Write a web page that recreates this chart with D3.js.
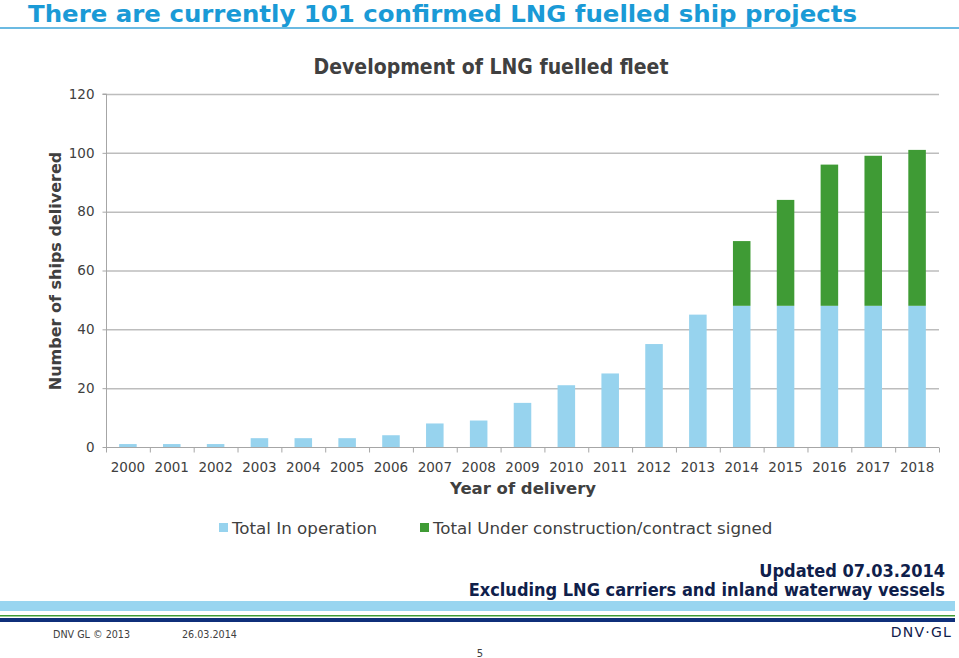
<!DOCTYPE html>
<html><head><meta charset="utf-8">
<script src="https://cdn.jsdelivr.net/npm/d3@7"></script>
<style>body{margin:0;background:#fff}svg{display:block}</style>
</head><body>
<script>
const years = ["2000","2001","2002","2003","2004","2005","2006","2007","2008","2009","2010","2011","2012","2013","2014","2015","2016","2017","2018"];
const inOperation = [1,1,1,3,3,3,4,8,9,15,21,25,35,45,48,48,48,48,48];
const underConstruction = [0,0,0,0,0,0,0,0,0,0,0,0,0,0,22,36,48,51,53];
const yTicks = [0,20,40,60,80,100,120];
const seriesNames = ["Total In operation","Total Under construction/contract signed"];
const colors = ["#97d3ee","#3f9b35"];

const W=959,H=658;
const svg=d3.select("body").append("svg").attr("width",W).attr("height",H);
const cond="'DejaVu Sans Condensed','DejaVu Sans',sans-serif";
const sans="'DejaVu Sans',Verdana,sans-serif";

// page title
svg.append("text").attr("x",28).attr("y",21.5).attr("font-family",cond).attr("font-weight","bold")
 .attr("font-size",23).attr("textLength",829).attr("lengthAdjust","spacingAndGlyphs")
 .attr("fill","#1a9ad6").text("There are currently 101 confirmed LNG fuelled ship projects");
svg.append("line").attr("x1",0).attr("x2",W).attr("y1",28).attr("y2",28).attr("stroke","#3aa3d8").attr("stroke-width",1.5);

// chart title
svg.append("text").attr("x",491).attr("y",74).attr("text-anchor","middle").attr("font-family",cond).attr("font-weight","bold")
 .attr("font-size",21).attr("fill","#404040").text("Development of LNG fuelled fleet");

const x0=106,x1=939,yb=447,yt=94;
const x=d3.scaleBand().domain(years).range([x0,x1]).paddingInner(0.6).paddingOuter(0.3);
const xb=d3.scaleBand().domain(years).range([x0,x1]);
const y=d3.scaleLinear().domain([0,120]).range([yb,yt]);

// gridlines
svg.append("g").selectAll("line").data(yTicks.filter(d=>d>0)).join("line")
 .attr("x1",x0).attr("x2",x1).attr("y1",d=>y(d)+0.5).attr("y2",d=>y(d)+0.5).attr("stroke","#bdbdbd").attr("stroke-width",1.5);

// stacked bars
const stack=d3.stack().keys([0,1]).value((d,k)=>d.v[k]);
const rows=years.map((yr,i)=>({yr,v:[inOperation[i],underConstruction[i]]}));
const layers=stack(rows);
svg.append("g").selectAll("g").data(layers).join("g").attr("fill",(d,i)=>colors[i])
 .selectAll("rect").data(d=>d).join("rect")
 .attr("x",d=>x(d.data.yr)).attr("width",x.bandwidth())
 .attr("y",d=>y(d[1])).attr("height",d=>y(d[0])-y(d[1]));

// y axis
const ya=svg.append("g").attr("transform",`translate(${x0+0.5},0)`)
 .call(d3.axisLeft(y).tickValues(yTicks).tickSize(4).tickPadding(8));
ya.select(".domain").attr("stroke","#a6a6a6").attr("d",`M-4,${y(120)}H0V${yb}`);
ya.selectAll(".tick line").attr("stroke","#a6a6a6");
ya.selectAll("text").attr("font-family",sans).attr("font-size",13.5).attr("fill","#404040");

// x axis
const xa=svg.append("g").attr("transform",`translate(0,${yb+0.5})`);
xa.append("line").attr("x1",x0).attr("x2",x1).attr("stroke","#a6a6a6");
xa.selectAll(".tk").data(years.concat(["end"])).join("line")
 .attr("x1",(d,i)=>x0+i*xb.step()+0.5).attr("x2",(d,i)=>x0+i*xb.step()+0.5).attr("y1",0).attr("y2",5).attr("stroke","#a6a6a6");
xa.selectAll("text").data(years).join("text").attr("x",d=>xb(d)+xb.bandwidth()/2).attr("y",24)
 .attr("text-anchor","middle").attr("font-family",sans).attr("font-size",13.5).attr("fill","#404040").text(d=>d);

// axis titles
svg.append("text").attr("x",523).attr("y",494).attr("text-anchor","middle").attr("font-family",sans).attr("font-weight","bold")
 .attr("font-size",16.5).attr("fill","#404040").text("Year of delivery");
svg.append("text").attr("transform","translate(61,271) rotate(-90)").attr("text-anchor","middle").attr("font-family",sans)
 .attr("font-weight","bold").attr("font-size",16).attr("fill","#404040").text("Number of ships delivered");

// legend
const lx=[219,420];
seriesNames.forEach((n,i)=>{
  svg.append("rect").attr("x",lx[i]).attr("y",523).attr("width",9).attr("height",9).attr("fill",colors[i]);
  svg.append("text").attr("x",lx[i]+13).attr("y",534).attr("font-family",sans).attr("font-size",16.7).attr("fill","#404040").text(n);
});

// footnote
svg.append("text").attr("x",945).attr("y",577).attr("text-anchor","end").attr("font-family",cond).attr("font-weight","bold")
 .attr("font-size",18).attr("fill","#0f204b").text("Updated 07.03.2014");
svg.append("text").attr("x",945).attr("y",596).attr("text-anchor","end").attr("font-family",cond).attr("font-weight","bold")
 .attr("font-size",18).attr("fill","#0f204b").text("Excluding LNG carriers and inland waterway vessels");

// footer bands
svg.append("rect").attr("x",0).attr("y",601).attr("width",955).attr("height",10).attr("fill","#99d5f0");
svg.append("rect").attr("x",0).attr("y",615).attr("width",955).attr("height",1.5).attr("fill","#3f9b35");
svg.append("rect").attr("x",0).attr("y",618).attr("width",955).attr("height",4).attr("fill","#0f2f7a");

svg.append("text").attr("x",53).attr("y",638).attr("font-family",sans).attr("font-size",9.6).attr("fill","#404040").text("DNV GL \u00A9 2013");
svg.append("text").attr("x",182).attr("y",638).attr("font-family",sans).attr("font-size",9.6).attr("fill","#404040").text("26.03.2014");
svg.append("text").attr("x",480).attr("y",657).attr("text-anchor","middle").attr("font-family",sans).attr("font-size",10).attr("fill","#404040").text("5");
svg.append("text").attr("x",952).attr("y",637).attr("text-anchor","end").attr("font-family",sans).attr("font-size",14)
 .attr("letter-spacing",1.2).attr("fill","#0f204b").text("DNV\u00B7GL");
</script>
</body></html>
